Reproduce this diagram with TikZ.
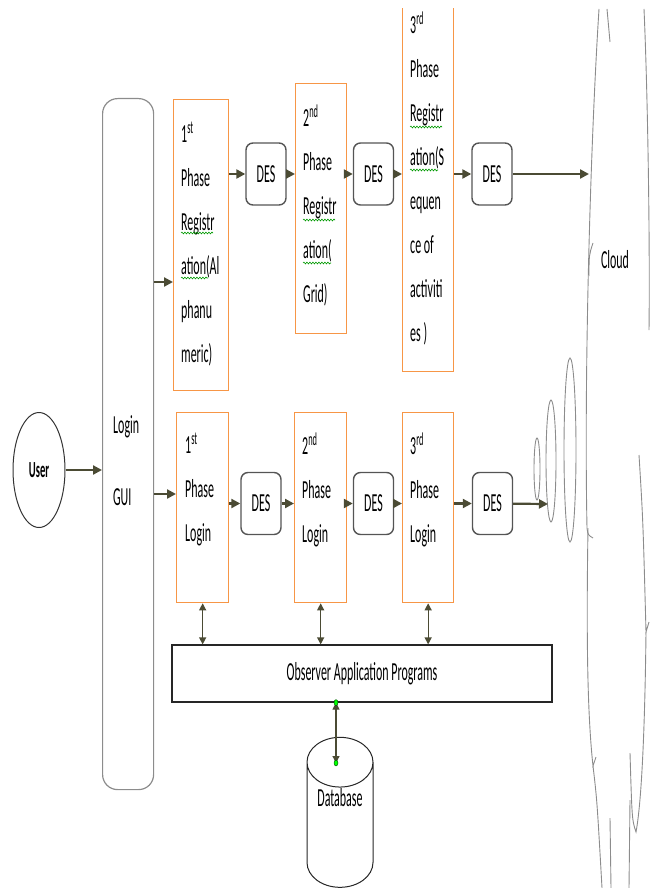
\documentclass[tikz,border=0pt]{standalone}
\usepackage{fontspec}
\setmainfont{Carlito}[FakeStretch=0.46]
\usetikzlibrary{arrows.meta,shapes.geometric,decorations.pathmorphing}
\definecolor{rust}{HTML}{F79646}
\definecolor{moss}{HTML}{4B4B34}
\definecolor{ash}{HTML}{8C8C8C}
\definecolor{slate}{HTML}{555555}
\tikzset{phase/.style={draw=rust,line width=1.3pt,anchor=north west,inner sep=0pt},lbl/.style={anchor=north west,align=left,inner sep=0pt,font=\fontsize{26}{44}\selectfont},des/.style={draw=slate,line width=1.4pt,rounded corners=7pt,minimum width=40pt,minimum height=62pt,inner sep=0pt,font=\fontsize{26}{30}\selectfont},arr/.style={-{Triangle[length=9pt,width=9pt]},line width=2.2pt,draw=moss},dbl/.style={{Triangle[length=7pt,width=7pt]}-{Triangle[length=7pt,width=7pt]},line width=1.2pt,draw=moss},cld/.style={draw=ash,line width=0.9pt},squig/.style={draw=green!60!black,line width=0.6pt,decorate,decoration={snake,amplitude=0.9pt,segment length=3pt}},gdot/.style={ellipse,fill=green,draw=green!30!black,line width=0.4pt,inner sep=0pt,minimum width=4pt,minimum height=6pt}}
\begin{document}
\begin{tikzpicture}[x=1pt,y=-1pt]
\useasboundingbox (0,0) rectangle (651,888);
\clip (0,9) rectangle (651,888);
% user and login front end
\node[ellipse,draw=black!80,line width=1pt,minimum width=52pt,minimum height=115pt,inner sep=0pt,font=\fontsize{23}{26}\selectfont\bfseries] (user) at (39,470) {User};
\node[draw=ash,line width=1.2pt,rounded corners=15pt,minimum width=51pt,minimum height=691pt,anchor=north west] (gui) at (102,98) {};
\node[lbl] (guit) at (113,415) {Login\\[28pt]GUI};
% registration phases
\node[phase,minimum width=55pt,minimum height=291pt] (r1) at (173,99) {};
\node[phase,minimum width=51pt,minimum height=250pt] (r2) at (295,83) {};
\node[phase,minimum width=51pt,minimum height=391pt] (r3) at (402,-20) {};
\node[lbl] (r1t) at (181,122) {1\textsuperscript{st}\\Phase\\Registr\\ation(Al\\phanu\\meric)};
\node[lbl] (r2t) at (303,105) {2\textsuperscript{nd}\\Phase\\Registr\\ation(\\Grid)};
\node[lbl] (r3t) at (410,12) {3\textsuperscript{rd}\\Phase\\Registr\\ation(S\\equen\\ce of\\activiti\\es )};
\node[des] (des1) at (266,174) {DES};
\node[des] (des2) at (373.5,174) {DES};
\node[des] (des3) at (492,174) {DES};
% login phases
\node[phase,minimum width=52pt,minimum height=190pt] (l1) at (176,412) {};
\node[phase,minimum width=52pt,minimum height=190pt] (l2) at (294,412) {};
\node[phase,minimum width=51pt,minimum height=190pt] (l3) at (402,412) {};
\node[lbl] (l1t) at (185,433) {1\textsuperscript{st}\\Phase\\Login};
\node[lbl] (l2t) at (302,433) {2\textsuperscript{nd}\\Phase\\Login};
\node[lbl] (l3t) at (410,433) {3\textsuperscript{rd}\\Phase\\Login};
\node[des] (des4) at (261,503.5) {DES};
\node[des] (des5) at (373.5,503.5) {DES};
\node[des] (des6) at (492.5,503.5) {DES};
% observer and database
\node[draw=black!85,line width=1.2pt,minimum width=380pt,minimum height=57pt,inner sep=0pt,font=\fontsize{26}{30}\selectfont] (obs) at (362,673.5) {Observer Application Programs};
\node[cylinder,shape border rotate=90,aspect=1.1,draw=black!85,line width=1pt,minimum width=66pt,minimum height=150pt,inner sep=0pt,text depth=55pt,font=\fontsize{26}{30}\selectfont] (db) at (340,825) {Database};
\coordinate (dbin) at (336,763);
% cloud
\draw[cld] (599,9) .. controls (590,150) and (584,380) .. (587,528) .. controls (588,535) .. (593,538);
\draw[cld] (593,243) .. controls (589,255) .. (589,276);
\draw[cld] (588,528) .. controls (586,650) and (588,720) .. (593,766) -- (596,757);
\draw[cld] (593,766) .. controls (597,800) .. (602,888);
\draw[cld] (610,818) -- (611,888);
\draw[cld] (607,9) -- (610,42);
\draw[cld] (644,9) .. controls (648,100) and (650,250) .. (649,330);
\draw[cld] (639,455) .. controls (643,520) .. (646,632) -- (649,622);
\draw[cld] (646,632) .. controls (645,720) and (642,800) .. (636,832) .. controls (632,820) .. (630,753);
\draw[cld] (630,800) -- (629,888);
\node[font=\fontsize{26}{30}\selectfont,inner sep=0pt] (cloud) at (615,260) {Cloud};
\coordinate (cin) at (589,174);
\coordinate (lin) at (548,504);
\draw[cld] (537,469) ellipse (3 and 31);
\draw[cld] (551,461) ellipse (5 and 61);
\draw[cld] (570,450) ellipse (6 and 92);
% spelling marks
\draw[squig] (181,233) -- (213,233);\draw[squig] (181,278) -- (208,278);
\draw[squig] (303,220) -- (335,220);\draw[squig] (303,263) -- (331,263);
\draw[squig] (410,127) -- (442,127);\draw[squig] (410,170) -- (438,170);
% connectors
\draw[arr] (user) -- (gui.west |- user);
\draw[arr] (gui.east |- 0,282) -- (r1.west |- 0,282);
\draw[arr] (gui.east |- 0,494) -- (l1.west |- 0,494);
\draw[arr] (r1.east |- des1) -- (des1);\draw[arr] (des1) -- (r2.west |- des1);
\draw[arr] (r2.east |- des2) -- (des2);\draw[arr] (des2) -- (r3.west |- des2);
\draw[arr] (r3.east |- des3) -- (des3);\draw[arr] (des3) -- (cin);
\draw[arr] (l1.east |- des4) -- (des4);\draw[arr] (des4) -- (l2.west |- des4);
\draw[arr] (l2.east |- des5) -- (des5);\draw[arr] (des5) -- (l3.west |- des5);
\draw[arr] (l3.east |- des6) -- (des6);\draw[arr] (des6) -- (lin);
\draw[dbl] (l1.south) -- (l1.south |- obs.north);
\draw[dbl] (l2.south) -- (l2.south |- obs.north);
\draw[dbl] (l3.south) -- (l3.south |- obs.north);
\draw[dbl] (obs.south -| dbin) -- (dbin);
\node[gdot] (g1) at (obs.south -| dbin) {};
\node[gdot] (g2) at (dbin) {};
\end{tikzpicture}
\end{document}
